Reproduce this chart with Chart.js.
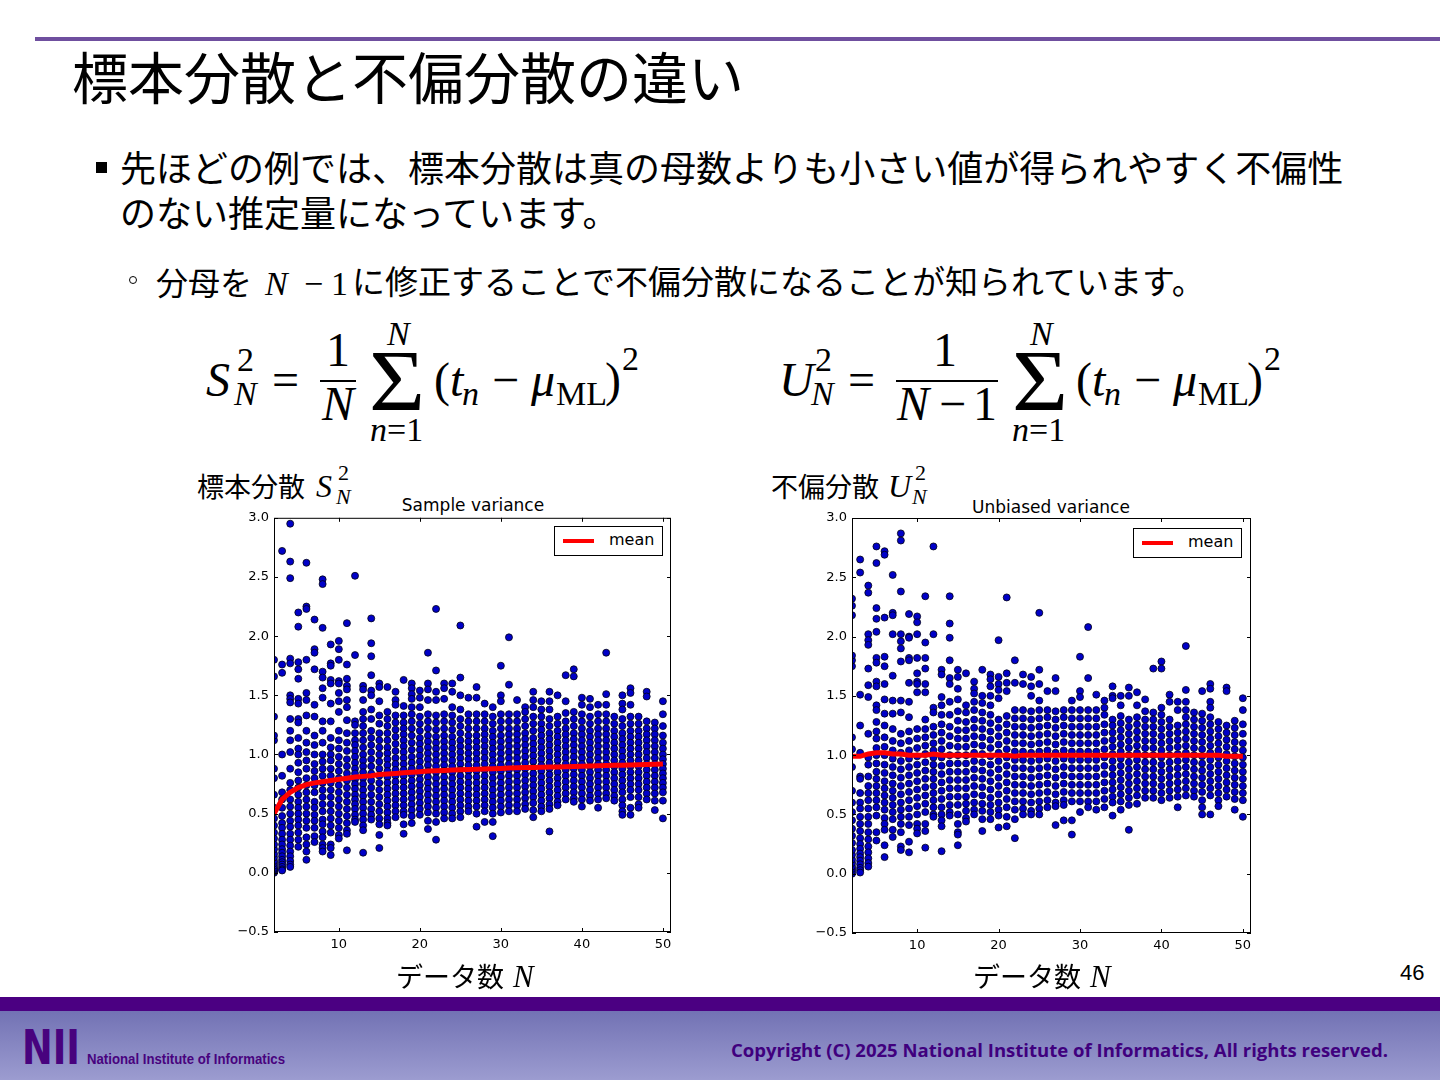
<!DOCTYPE html>
<html lang="ja">
<head>
  <meta charset="UTF-8">
  <title>標本分散と不偏分散の違い</title>
  <script src="https://cdn.jsdelivr.net/npm/chart.js"></script>
  <style>
    html, body { margin: 0; padding: 0; }
    body {
      width: 1440px; height: 1080px; position: relative; overflow: hidden;
      background: #fff; color: #000;
      font-family: "Noto Sans CJK JP", sans-serif;
    }
    .abs { position: absolute; white-space: nowrap; line-height: 1; }
    .m { font-family: "Liberation Serif", serif; }
    .mi { font-family: "Liberation Serif", serif; font-style: italic; }
    .topline { left: 35px; top: 37px; width: 1405px; height: 4px; background: #6f4f9f; }
    .title { left: 72px; top: 47px; font-size: 56px; }
    .txt1 { left: 120px; font-size: 36px; }
    .txt2 { top: 265px; font-size: 32px; }
    .sq { left: 96px; top: 162px; width: 11px; height: 11px; background: #000; }
    .ring { left: 129px; top: 276px; width: 6px; height: 6px; border: 1.5px solid #000; border-radius: 50%; }
    .F { font-size: 48px; }
    .f { font-size: 34px; }
    .sig { font-size: 86px; transform: scaleX(1.12); transform-origin: left top; }
    .lab { font-size: 27px; }
    .ctitle { font-family: "DejaVu Sans", sans-serif; font-size: 17px; width: 240px; text-align: center; }
    .legend { background: #fff; border: 1px solid #000; width: 107px; height: 28px; }
    .legend .ln { position: absolute; left: 8px; top: 12px; width: 31px; height: 4px; background: #ff0000; }
    .legend .tx { position: absolute; left: 54px; top: 5px; font-family: "DejaVu Sans", sans-serif; font-size: 16px; line-height: 1; }
    .plot { position: absolute; }
    .fbar { left: 0; top: 997px; width: 1440px; height: 14px; background: #4b0082; }
    .fgrad { left: 0; top: 1011px; width: 1440px; height: 69px; background: linear-gradient(#7272b4, #9c9cd0); }
    .nii { left: 22px; top: 1023px; font-family: "DejaVu Sans", sans-serif; font-weight: bold; font-size: 48px; color: #48037e; transform-origin: left top; }
    .nii2 { left: 87px; top: 1052px; font-family: "Liberation Sans", sans-serif; font-weight: bold; font-size: 14px; color: #48037e; transform-origin: left top; }
    .copy { left: 731px; top: 1041px; font-family: "Open Sans", sans-serif; font-weight: bold; font-size: 18px; color: #40007e; transform-origin: left top; }
    .page { left: 1400px; top: 962px; font-family: "Liberation Sans", sans-serif; font-size: 22px; }
  </style>
</head>
<body>
  <div class="abs topline"></div>
  <div class="abs title">標本分散と不偏分散の違い</div>

  <div class="abs sq"></div>
  <div class="abs txt1" style="top:148px">先ほどの例では、標本分散は真の母数よりも小さい値が得られやすく不偏性</div>
  <div class="abs txt1" style="top:193px">のない推定量になっています。</div>

  <div class="abs ring"></div>
  <div class="abs txt2" style="left:156px">分母を</div>
  <div class="abs mi" style="left:265px;top:267px;font-size:34px">N</div>
  <div class="abs m" style="left:304px;top:267px;font-size:34px">−</div>
  <div class="abs m" style="left:331px;top:267px;font-size:34px">1</div>
  <div class="abs txt2" style="left:352px;top:264px;font-size:33px">に修正することで不偏分散になることが知られています。</div>

  <!-- left formula -->
  <div class="abs mi F" style="left:206px;top:356px">S</div>
  <div class="abs mi f" style="left:234px;top:377px">N</div>
  <div class="abs m f" style="left:237px;top:343px">2</div>
  <div class="abs m F" style="left:272px;top:356px">=</div>
  <div class="abs m F" style="left:326px;top:326px">1</div>
  <div class="abs" style="left:320px;top:380px;width:36px;height:2px;background:#000"></div>
  <div class="abs mi F" style="left:322px;top:380px">N</div>
  <div class="abs m sig" style="left:369px;top:338px">Σ</div>
  <div class="abs mi f" style="left:387px;top:317px">N</div>
  <div class="abs f" style="left:370px;top:410px"><span class="mi">n</span><span class="m">=1</span></div>
  <div class="abs m F" style="left:434px;top:356px">(</div>
  <div class="abs mi F" style="left:450px;top:356px">t</div>
  <div class="abs mi f" style="left:462px;top:377px">n</div>
  <div class="abs m F" style="left:492px;top:356px">−</div>
  <div class="abs mi F" style="left:531px;top:356px">μ</div>
  <div class="abs m f" style="left:556px;top:377px">ML</div>
  <div class="abs m F" style="left:605px;top:356px">)</div>
  <div class="abs m f" style="left:622px;top:342px">2</div>

  <!-- right formula -->
  <div class="abs mi F" style="left:779px;top:356px">U</div>
  <div class="abs mi f" style="left:811px;top:377px">N</div>
  <div class="abs m f" style="left:815px;top:343px">2</div>
  <div class="abs m F" style="left:848px;top:356px">=</div>
  <div class="abs m F" style="left:933px;top:326px">1</div>
  <div class="abs" style="left:896px;top:380px;width:102px;height:2px;background:#000"></div>
  <div class="abs mi F" style="left:897px;top:380px">N</div>
  <div class="abs m F" style="left:939px;top:380px">−</div>
  <div class="abs m F" style="left:973px;top:380px">1</div>
  <div class="abs m sig" style="left:1012px;top:338px">Σ</div>
  <div class="abs mi f" style="left:1030px;top:317px">N</div>
  <div class="abs f" style="left:1012px;top:410px"><span class="mi">n</span><span class="m">=1</span></div>
  <div class="abs m F" style="left:1076px;top:356px">(</div>
  <div class="abs mi F" style="left:1092px;top:356px">t</div>
  <div class="abs mi f" style="left:1104px;top:377px">n</div>
  <div class="abs m F" style="left:1134px;top:356px">−</div>
  <div class="abs mi F" style="left:1173px;top:356px">μ</div>
  <div class="abs m f" style="left:1198px;top:377px">ML</div>
  <div class="abs m F" style="left:1247px;top:356px">)</div>
  <div class="abs m f" style="left:1264px;top:342px">2</div>

  <!-- chart labels -->
  <div class="abs lab" style="left:197px;top:472px">標本分散</div>
  <div class="abs mi" style="left:316px;top:470px;font-size:32px">S</div>
  <div class="abs mi" style="left:336px;top:486px;font-size:22px">N</div>
  <div class="abs m" style="left:338px;top:462px;font-size:22px">2</div>
  <div class="abs lab" style="left:771px;top:472px">不偏分散</div>
  <div class="abs mi" style="left:888px;top:470px;font-size:32px">U</div>
  <div class="abs mi" style="left:912px;top:486px;font-size:22px">N</div>
  <div class="abs m" style="left:915px;top:462px;font-size:22px">2</div>

  <div class="abs ctitle" style="left:353px;top:497px">Sample variance</div>
  <div class="abs ctitle" style="left:931px;top:499px">Unbiased variance</div>

  <div class="plot" style="left:200px;top:505px"><canvas id="chartS" width="490" height="457"></canvas></div>
  <div class="plot" style="left:778px;top:505px"><canvas id="chartU" width="490" height="458"></canvas></div>

  <div class="abs legend" style="left:554px;top:526px"><div class="ln"></div><div class="tx">mean</div></div>
  <div class="abs legend" style="left:1133px;top:528px"><div class="ln"></div><div class="tx">mean</div></div>

  <div class="abs lab" style="left:396px;top:962px">データ数</div>
  <div class="abs mi" style="left:513px;top:961px;font-size:31px">N</div>
  <div class="abs lab" style="left:973px;top:962px">データ数</div>
  <div class="abs mi" style="left:1090px;top:961px;font-size:31px">N</div>
  <div class="abs page">46</div>

  <div class="abs fbar"></div>
  <div class="abs fgrad"></div>
  <div class="abs nii" data-w="58">NII</div>
  <div class="abs nii2" data-w="198">National Institute of Informatics</div>
  <div class="abs copy" data-w="657">Copyright (C) 2025 National Institute of Informatics, All rights reserved.</div>

  <script>
    // data sizes on the x axis
    const nSizes = [2, 3, 4, 5, 6, 7, 8, 9, 10, 11, 12, 13, 14, 15, 16, 17, 18, 19, 20, 21, 22, 23, 24, 25, 26,
                    27, 28, 29, 30, 31, 32, 33, 34, 35, 36, 37, 38, 39, 40, 41, 42, 43, 44, 45, 46, 47, 48, 49, 50];
    const xTicks = [10, 20, 30, 40, 50];
    const yTicks = [-0.5, 0, 0.5, 1, 1.5, 2, 2.5, 3];
    const yTickLabels = ['\u22120.5', '0.0', '0.5', '1.0', '1.5', '2.0', '2.5', '3.0'];

    // sample variance S_N^2, one column of values per N
    const sampleVar = [
      [0.00,0.01,0.02,0.03,0.04,0.06,0.08,0.10,0.13,0.16,0.20,0.24,0.29,0.34,0.40,0.46,0.55,0.66,0.80,0.88,1.12,1.16,1.32,1.66,1.80],
      [2.72,1.76,1.69,1.00,0.82,0.68,0.62,0.55,0.48,0.42,0.38,0.33,0.28,0.24,0.20,0.17,0.14,0.11,0.09,0.07,0.05,0.03,0.02],
      [2.95,2.63,2.49,1.81,1.77,1.50,1.47,1.44,1.30,1.20,1.12,1.02,0.88,0.76,0.70,0.62,0.56,0.50,0.44,0.39,0.33,0.28,0.23,0.18,0.14,0.10,0.07,0.05],
      [2.20,2.08,1.78,1.72,1.64,1.47,1.43,1.30,1.27,1.14,1.05,1.00,0.93,0.85,0.78,0.72,0.66,0.60,0.55,0.50,0.45,0.40,0.34,0.28,0.22],
      [2.62,2.25,2.23,1.80,1.52,1.46,1.33,1.20,1.10,1.02,0.95,0.88,0.80,0.74,0.68,0.62,0.56,0.50,0.44,0.38,0.30,0.24,0.18,0.11],
      [2.14,1.89,1.86,1.72,1.42,1.32,1.16,1.08,1.00,0.92,0.86,0.80,0.74,0.68,0.60,0.55,0.49,0.44,0.38,0.31,0.26],
      [2.48,2.44,2.07,1.70,1.65,1.56,1.48,1.28,1.20,1.10,1.00,0.94,0.88,0.82,0.76,0.70,0.64,0.58,0.52,0.45,0.41,0.35,0.30,0.24,0.21,0.18],
      [1.93,1.77,1.75,1.63,1.60,1.43,1.28,1.14,1.06,1.00,0.95,0.88,0.82,0.76,0.70,0.64,0.58,0.52,0.46,0.40,0.34,0.24,0.21,0.15],
      [1.96,1.89,1.80,1.62,1.60,1.52,1.45,1.36,1.20,1.12,1.05,0.98,0.92,0.86,0.80,0.74,0.68,0.62,0.56,0.50,0.44,0.38,0.32,0.29],
      [2.11,1.76,1.64,1.58,1.55,1.46,1.40,1.29,1.18,1.10,1.03,0.96,0.90,0.84,0.78,0.72,0.66,0.60,0.54,0.48,0.42,0.36,0.33,0.19],
      [2.51,1.84,1.28,1.25,1.18,1.12,1.08,1.03,0.98,0.93,0.88,0.84,0.79,0.75,0.71,0.66,0.62,0.58,0.54,0.49,0.45,0.43],
      [1.58,1.55,1.46,1.36,1.30,1.24,1.18,1.12,1.06,1.00,0.95,0.90,0.85,0.80,0.75,0.70,0.65,0.60,0.55,0.50,0.45,0.40,0.36,0.17],
      [2.15,1.94,1.83,1.67,1.54,1.50,1.38,1.30,1.20,1.14,1.08,1.02,0.96,0.90,0.84,0.78,0.72,0.66,0.60,0.54,0.49,0.45],
      [1.60,1.57,1.45,1.33,1.26,1.18,1.12,1.06,1.00,0.94,0.88,0.82,0.76,0.70,0.64,0.58,0.52,0.46,0.41,0.32,0.21],
      [1.57,1.36,1.30,1.24,1.18,1.12,1.06,1.01,0.96,0.91,0.86,0.81,0.76,0.71,0.66,0.61,0.56,0.51,0.46,0.42,0.40],
      [1.53,1.46,1.42,1.33,1.27,1.21,1.15,1.09,1.03,0.97,0.92,0.87,0.82,0.77,0.72,0.67,0.62,0.57,0.52,0.47],
      [1.63,1.41,1.33,1.27,1.22,1.17,1.12,1.07,1.02,0.97,0.92,0.87,0.82,0.77,0.72,0.67,0.62,0.57,0.52,0.49,0.41,0.33],
      [1.60,1.56,1.51,1.47,1.40,1.34,1.28,1.22,1.16,1.10,1.04,0.98,0.93,0.88,0.83,0.78,0.73,0.68,0.63,0.58,0.53,0.48,0.42],
      [1.54,1.48,1.40,1.32,1.26,1.20,1.14,1.09,1.04,0.99,0.94,0.89,0.84,0.79,0.74,0.69,0.64,0.59,0.54,0.49],
      [1.86,1.60,1.55,1.46,1.34,1.28,1.22,1.16,1.11,1.06,1.01,0.96,0.91,0.86,0.81,0.76,0.71,0.66,0.61,0.56,0.51,0.44,0.37],
      [2.23,1.71,1.53,1.46,1.33,1.27,1.21,1.15,1.10,1.05,1.00,0.95,0.90,0.85,0.80,0.75,0.70,0.65,0.60,0.55,0.50,0.43,0.28],
      [1.60,1.56,1.47,1.34,1.28,1.22,1.16,1.11,1.06,1.01,0.96,0.91,0.86,0.81,0.76,0.71,0.66,0.61,0.56,0.51,0.46],
      [1.60,1.53,1.40,1.33,1.27,1.21,1.15,1.10,1.05,1.00,0.95,0.90,0.85,0.80,0.75,0.70,0.65,0.60,0.55,0.50,0.46],
      [2.09,1.65,1.50,1.38,1.30,1.24,1.18,1.12,1.07,1.02,0.97,0.92,0.87,0.82,0.77,0.72,0.67,0.62,0.57,0.52,0.47],
      [1.48,1.34,1.28,1.22,1.16,1.11,1.06,1.01,0.96,0.91,0.86,0.81,0.76,0.71,0.66,0.61,0.56,0.52],
      [1.57,1.48,1.34,1.28,1.22,1.16,1.11,1.06,1.01,0.96,0.91,0.86,0.81,0.76,0.71,0.66,0.61,0.56,0.50,0.39],
      [1.43,1.34,1.28,1.22,1.17,1.12,1.07,1.02,0.97,0.92,0.87,0.82,0.77,0.72,0.67,0.62,0.57,0.52,0.43],
      [1.40,1.32,1.26,1.20,1.15,1.10,1.05,1.00,0.95,0.90,0.85,0.80,0.75,0.70,0.65,0.60,0.55,0.50,0.43,0.31],
      [1.75,1.50,1.45,1.34,1.28,1.22,1.16,1.11,1.06,1.01,0.96,0.91,0.86,0.81,0.76,0.71,0.66,0.61,0.56,0.51],
      [1.99,1.59,1.34,1.28,1.22,1.17,1.12,1.07,1.02,0.97,0.92,0.87,0.82,0.77,0.72,0.67,0.62,0.57,0.52],
      [1.46,1.34,1.28,1.22,1.17,1.12,1.07,1.02,0.97,0.92,0.87,0.82,0.77,0.72,0.67,0.62,0.57,0.52],
      [1.40,1.36,1.30,1.24,1.18,1.13,1.08,1.03,0.98,0.93,0.88,0.83,0.78,0.73,0.68,0.63,0.58,0.54],
      [1.53,1.46,1.40,1.32,1.26,1.20,1.14,1.09,1.04,0.99,0.94,0.89,0.84,0.79,0.74,0.69,0.64,0.59,0.53,0.47],
      [1.45,1.38,1.32,1.26,1.21,1.16,1.11,1.06,1.01,0.96,0.91,0.86,0.81,0.76,0.71,0.66,0.61,0.56,0.52],
      [1.53,1.45,1.38,1.30,1.24,1.18,1.13,1.08,1.03,0.98,0.93,0.88,0.83,0.78,0.73,0.68,0.63,0.58,0.54,0.35],
      [1.50,1.32,1.26,1.20,1.15,1.10,1.05,1.00,0.95,0.90,0.85,0.80,0.75,0.70,0.65,0.60,0.57],
      [1.67,1.45,1.35,1.28,1.22,1.17,1.12,1.07,1.02,0.97,0.92,0.87,0.82,0.77,0.72,0.67,0.62],
      [1.72,1.66,1.36,1.30,1.24,1.18,1.13,1.08,1.03,0.98,0.93,0.88,0.83,0.78,0.73,0.68,0.63,0.60],
      [1.48,1.42,1.34,1.28,1.22,1.17,1.12,1.07,1.02,0.97,0.92,0.87,0.82,0.77,0.72,0.67,0.62,0.56],
      [1.47,1.40,1.32,1.26,1.20,1.15,1.10,1.05,1.00,0.95,0.90,0.85,0.80,0.75,0.70,0.65,0.61],
      [1.42,1.34,1.28,1.22,1.17,1.12,1.07,1.02,0.97,0.92,0.87,0.82,0.77,0.72,0.67,0.62,0.55],
      [1.86,1.51,1.42,1.34,1.28,1.22,1.17,1.12,1.07,1.02,0.97,0.92,0.87,0.82,0.77,0.72,0.67,0.63],
      [1.32,1.26,1.20,1.15,1.10,1.05,1.00,0.95,0.90,0.85,0.80,0.75,0.70,0.65,0.61],
      [1.50,1.43,1.38,1.30,1.24,1.18,1.13,1.08,1.03,0.98,0.93,0.88,0.83,0.78,0.73,0.68,0.62,0.57,0.52,0.49],
      [1.56,1.52,1.42,1.32,1.26,1.20,1.15,1.10,1.05,1.00,0.95,0.90,0.85,0.80,0.75,0.70,0.64,0.55,0.49],
      [1.32,1.26,1.20,1.15,1.10,1.05,1.00,0.95,0.90,0.85,0.80,0.75,0.70,0.64,0.58,0.55],
      [1.53,1.49,1.28,1.22,1.17,1.12,1.07,1.02,0.97,0.92,0.87,0.82,0.77,0.72,0.67,0.62],
      [1.27,1.22,1.17,1.12,1.07,1.02,0.97,0.92,0.87,0.82,0.77,0.72,0.67,0.61,0.53],
      [1.45,1.34,1.24,1.16,1.10,1.05,1.00,0.96,0.92,0.88,0.84,0.80,0.76,0.72,0.68,0.61,0.46]
    ];

    // unbiased variance U_N^2, one column per N
    const unbiasedVar = [
      [0.00,0.02,0.04,0.06,0.09,0.12,0.16,0.20,0.26,0.32,0.38,0.45,0.52,0.60,0.70,0.90,1.05,1.15,1.75,1.80,1.84,2.18,2.26,2.32],
      [2.65,2.54,1.51,1.25,1.02,0.82,0.80,0.68,0.60,0.55,0.48,0.42,0.36,0.30,0.25,0.21,0.17,0.14,0.11,0.08,0.05,0.03,0.01],
      [2.43,2.37,2.02,1.97,1.93,1.73,1.59,1.49,1.18,0.98,0.92,0.82,0.74,0.68,0.62,0.55,0.48,0.42,0.35,0.29,0.23,0.18,0.13,0.09,0.06],
      [2.76,2.62,2.24,2.15,2.04,1.82,1.78,1.62,1.58,1.42,1.38,1.28,1.20,1.14,1.06,1.00,0.93,0.86,0.80,0.74,0.68,0.62,0.56,0.49,0.35,0.28],
      [2.72,2.69,2.16,1.83,1.75,1.60,1.47,1.35,1.25,1.15,1.07,1.00,0.92,0.85,0.78,0.72,0.66,0.60,0.54,0.47,0.42,0.37,0.24,0.14],
      [2.52,2.20,2.18,2.02,1.67,1.46,1.35,1.22,1.12,1.04,0.97,0.90,0.83,0.76,0.70,0.64,0.58,0.52,0.46,0.37,0.31],
      [2.87,2.81,2.38,2.02,1.96,1.90,1.79,1.46,1.36,1.18,1.10,1.02,0.95,0.88,0.81,0.74,0.67,0.60,0.54,0.48,0.42,0.35,0.23,0.20],
      [2.19,2.00,1.99,1.82,1.80,1.61,1.45,1.32,1.20,1.12,1.04,0.97,0.90,0.83,0.76,0.69,0.62,0.55,0.48,0.41,0.27,0.18],
      [2.17,2.12,2.02,1.82,1.69,1.62,1.60,1.53,1.22,1.14,1.06,0.99,0.92,0.85,0.78,0.71,0.64,0.57,0.50,0.42,0.38,0.34],
      [2.34,1.95,1.82,1.73,1.60,1.53,1.30,1.22,1.15,1.08,1.01,0.94,0.87,0.80,0.73,0.66,0.59,0.52,0.42,0.36,0.22],
      [2.76,2.02,1.40,1.36,1.24,1.17,1.10,1.04,0.98,0.92,0.86,0.80,0.74,0.68,0.62,0.56,0.50,0.48],
      [1.72,1.68,1.49,1.42,1.34,1.26,1.19,1.12,1.05,0.98,0.91,0.84,0.77,0.70,0.63,0.56,0.50,0.45,0.40,0.19],
      [2.34,2.11,1.99,1.80,1.65,1.60,1.45,1.34,1.24,1.16,1.08,1.00,0.93,0.86,0.79,0.72,0.65,0.58,0.52,0.49],
      [1.72,1.66,1.56,1.47,1.37,1.29,1.21,1.14,1.07,1.00,0.93,0.86,0.79,0.72,0.65,0.58,0.50,0.42,0.35,0.33,0.24],
      [1.69,1.42,1.36,1.28,1.21,1.14,1.07,1.00,0.93,0.86,0.79,0.72,0.65,0.59,0.53,0.47,0.44],
      [1.62,1.56,1.52,1.45,1.38,1.30,1.23,1.16,1.09,1.02,0.95,0.88,0.81,0.74,0.67,0.60,0.54,0.50],
      [1.72,1.50,1.44,1.36,1.29,1.22,1.15,1.08,1.01,0.94,0.87,0.80,0.73,0.66,0.59,0.53,0.46,0.36],
      [1.68,1.64,1.58,1.50,1.42,1.34,1.27,1.20,1.13,1.06,0.99,0.92,0.85,0.78,0.71,0.64,0.58,0.52,0.46],
      [1.97,1.66,1.60,1.55,1.48,1.30,1.23,1.16,1.09,1.02,0.95,0.88,0.81,0.74,0.67,0.60,0.54,0.49,0.39],
      [2.33,1.69,1.61,1.54,1.33,1.26,1.19,1.12,1.05,0.98,0.91,0.84,0.77,0.70,0.63,0.56,0.48,0.40],
      [1.80,1.61,1.38,1.31,1.24,1.17,1.10,1.03,0.96,0.89,0.82,0.75,0.68,0.61,0.54,0.46,0.30],
      [1.68,1.60,1.38,1.31,1.24,1.17,1.10,1.03,0.96,0.89,0.82,0.75,0.68,0.61,0.55,0.50],
      [1.66,1.58,1.50,1.37,1.30,1.23,1.16,1.09,1.02,0.95,0.88,0.81,0.74,0.67,0.60,0.53,0.50],
      [2.20,1.72,1.60,1.46,1.38,1.31,1.24,1.17,1.10,1.03,0.96,0.89,0.82,0.75,0.68,0.61,0.55,0.50],
      [1.54,1.38,1.32,1.25,1.18,1.11,1.04,0.97,0.90,0.83,0.76,0.69,0.62,0.56],
      [1.65,1.54,1.37,1.30,1.23,1.16,1.09,1.02,0.95,0.88,0.81,0.74,0.67,0.60,0.57,0.41],
      [1.38,1.32,1.25,1.18,1.11,1.04,0.97,0.90,0.83,0.76,0.69,0.62,0.58,0.45],
      [1.46,1.38,1.31,1.24,1.17,1.10,1.03,0.96,0.89,0.82,0.75,0.68,0.61,0.45,0.33],
      [1.83,1.54,1.49,1.38,1.31,1.24,1.17,1.10,1.03,0.96,0.89,0.82,0.75,0.68,0.61,0.52],
      [2.08,1.65,1.38,1.31,1.24,1.17,1.10,1.03,0.96,0.89,0.82,0.75,0.68,0.61,0.56],
      [1.51,1.38,1.31,1.24,1.17,1.10,1.03,0.96,0.89,0.82,0.75,0.68,0.61,0.54],
      [1.46,1.40,1.34,1.26,1.19,1.12,1.05,0.98,0.91,0.84,0.77,0.70,0.63,0.56],
      [1.58,1.50,1.48,1.30,1.25,1.19,1.13,1.07,1.01,0.95,0.89,0.83,0.77,0.71,0.65,0.60,0.49],
      [1.50,1.42,1.33,1.27,1.21,1.15,1.09,1.03,0.97,0.91,0.85,0.79,0.73,0.67,0.61,0.54],
      [1.57,1.50,1.30,1.24,1.18,1.12,1.06,1.00,0.94,0.88,0.82,0.76,0.70,0.64,0.58,0.37],
      [1.53,1.42,1.32,1.26,1.20,1.14,1.08,1.02,0.96,0.90,0.84,0.78,0.72,0.66,0.59],
      [1.47,1.37,1.30,1.24,1.18,1.12,1.06,1.00,0.94,0.88,0.82,0.76,0.70,0.64],
      [1.73,1.36,1.30,1.24,1.18,1.12,1.06,1.00,0.94,0.88,0.82,0.76,0.70,0.64],
      [1.79,1.73,1.40,1.34,1.28,1.22,1.16,1.10,1.04,0.98,0.92,0.86,0.80,0.74,0.68,0.62],
      [1.51,1.45,1.30,1.24,1.18,1.12,1.06,1.00,0.94,0.88,0.82,0.76,0.70,0.64],
      [1.45,1.38,1.25,1.19,1.13,1.07,1.01,0.95,0.89,0.83,0.77,0.71,0.65,0.56],
      [1.92,1.55,1.45,1.38,1.32,1.26,1.20,1.14,1.08,1.02,0.96,0.90,0.84,0.78,0.72,0.66],
      [1.36,1.30,1.24,1.18,1.12,1.06,1.00,0.94,0.88,0.82,0.76,0.70,0.65],
      [1.54,1.35,1.29,1.23,1.17,1.11,1.05,0.99,0.93,0.87,0.81,0.75,0.69,0.62,0.56,0.50],
      [1.60,1.56,1.45,1.40,1.32,1.26,1.20,1.14,1.08,1.02,0.96,0.90,0.84,0.78,0.72,0.66,0.50],
      [1.28,1.22,1.16,1.10,1.04,0.98,0.92,0.86,0.80,0.74,0.68,0.62,0.57],
      [1.57,1.54,1.25,1.19,1.13,1.07,1.01,0.95,0.89,0.83,0.77,0.71,0.65],
      [1.29,1.23,1.17,1.11,1.05,0.99,0.93,0.87,0.81,0.75,0.69,0.63,0.54],
      [1.48,1.38,1.26,1.18,1.10,1.04,0.98,0.92,0.86,0.80,0.74,0.68,0.62,0.48]
    ];

    // mean of each column (red line)
    const meanSample = [0.50,0.62,0.68,0.72,0.745,0.76,0.77,0.78,0.79,0.80,0.81,0.815,0.82,0.83,0.835,0.84,0.845,
                        0.85,0.855,0.86,0.862,0.865,0.868,0.87,0.873,0.875,0.878,0.88,0.882,0.885,0.887,0.889,0.89,
                        0.892,0.894,0.895,0.897,0.899,0.90,0.902,0.904,0.906,0.908,0.91,0.912,0.914,0.916,0.918,0.92];
    const meanUnbiased = [0.99,0.99,1.01,1.02,1.02,1.01,1.01,1.00,1.00,1.00,1.01,1.00,1.00,1.00,1.00,1.00,1.00,
                          1.00,1.00,1.00,0.99,1.00,1.00,1.00,1.00,1.00,1.00,1.00,1.00,1.00,1.00,1.00,1.00,
                          1.00,1.00,1.00,1.00,1.00,1.00,1.00,1.00,1.00,1.00,1.00,1.00,1.00,0.99,0.99,0.99];

    // matplotlib-like frame with inward ticks on all four sides
    const frameTicks = {
      id: 'frameTicks',
      afterDatasetsDraw(chart) {
        const { ctx, chartArea: a, scales: { x, y } } = chart;
        ctx.save();
        ctx.strokeStyle = '#000';
        ctx.lineWidth = 1;
        ctx.strokeRect(a.left + 0.5, a.top + 0.5, a.right - a.left - 1, a.bottom - a.top - 1);
        ctx.beginPath();
        xTicks.forEach(v => {
          const px = Math.round(x.getPixelForValue(v)) + 0.5;
          ctx.moveTo(px, a.bottom); ctx.lineTo(px, a.bottom - 4);
          ctx.moveTo(px, a.top); ctx.lineTo(px, a.top + 4);
        });
        yTicks.forEach(v => {
          const py = Math.round(y.getPixelForValue(v)) + 0.5;
          ctx.moveTo(a.left, py); ctx.lineTo(a.left + 4, py);
          ctx.moveTo(a.right, py); ctx.lineTo(a.right - 4, py);
        });
        ctx.stroke();
        ctx.restore();
      }
    };

    function makeChart(id, columns, means, pad) {
      const points = [];
      nSizes.forEach((n, i) => columns[i].forEach(v => points.push({ x: n, y: v })));
      const meanLine = nSizes.map((n, i) => ({ x: n, y: means[i] }));
      const tickFont = { family: 'DejaVu Sans', size: 13 };
      return new Chart(document.getElementById(id), {
        type: 'scatter',
        data: {
          datasets: [
            {
              label: 'mean', data: meanLine, showLine: true, order: 0,
              borderColor: '#ff0000', borderWidth: 5, pointRadius: 0, tension: 0, clip: 0
            },
            {
              label: 'samples', data: points, order: 1,
              pointRadius: 3.5, backgroundColor: '#0000c8', borderColor: '#000010', borderWidth: 0.8, clip: 0
            }
          ]
        },
        options: {
          responsive: false,
          animation: false,
          layout: { padding: pad },
          plugins: { legend: { display: false }, tooltip: { enabled: false }, title: { display: false } },
          scales: {
            x: {
              type: 'linear', min: 2, max: 51,
              afterBuildTicks: s => { s.ticks = xTicks.map(v => ({ value: v })); },
              afterFit: s => { s.height = 30; },
              grid: { display: false, drawTicks: false }, border: { display: false },
              ticks: { color: '#000', font: tickFont, padding: 5, autoSkip: false, maxRotation: 0 }
            },
            y: {
              type: 'linear', min: -0.5, max: 3,
              afterBuildTicks: s => { s.ticks = yTicks.map(v => ({ value: v })); },
              afterFit: s => { s.width = 74; },
              grid: { display: false, drawTicks: false }, border: { display: false },
              ticks: { color: '#000', font: tickFont, padding: 5, autoSkip: false, callback: (v, i) => yTickLabels[i] }
            }
          }
        },
        plugins: [frameTicks]
      });
    }

    makeChart('chartS', sampleVar, meanSample, { top: 11, right: 19, bottom: 0, left: 0 });
    makeChart('chartU', unbiasedVar, meanUnbiased, { top: 13, right: 17, bottom: 0, left: 0 });

    // squeeze footer texts to the widths they have on the slide
    document.querySelectorAll('[data-w]').forEach(el => {
      const w = el.getBoundingClientRect().width;
      el.style.transform = 'scaleX(' + (el.dataset.w / w) + ')';
    });
  </script>
</body>
</html>
